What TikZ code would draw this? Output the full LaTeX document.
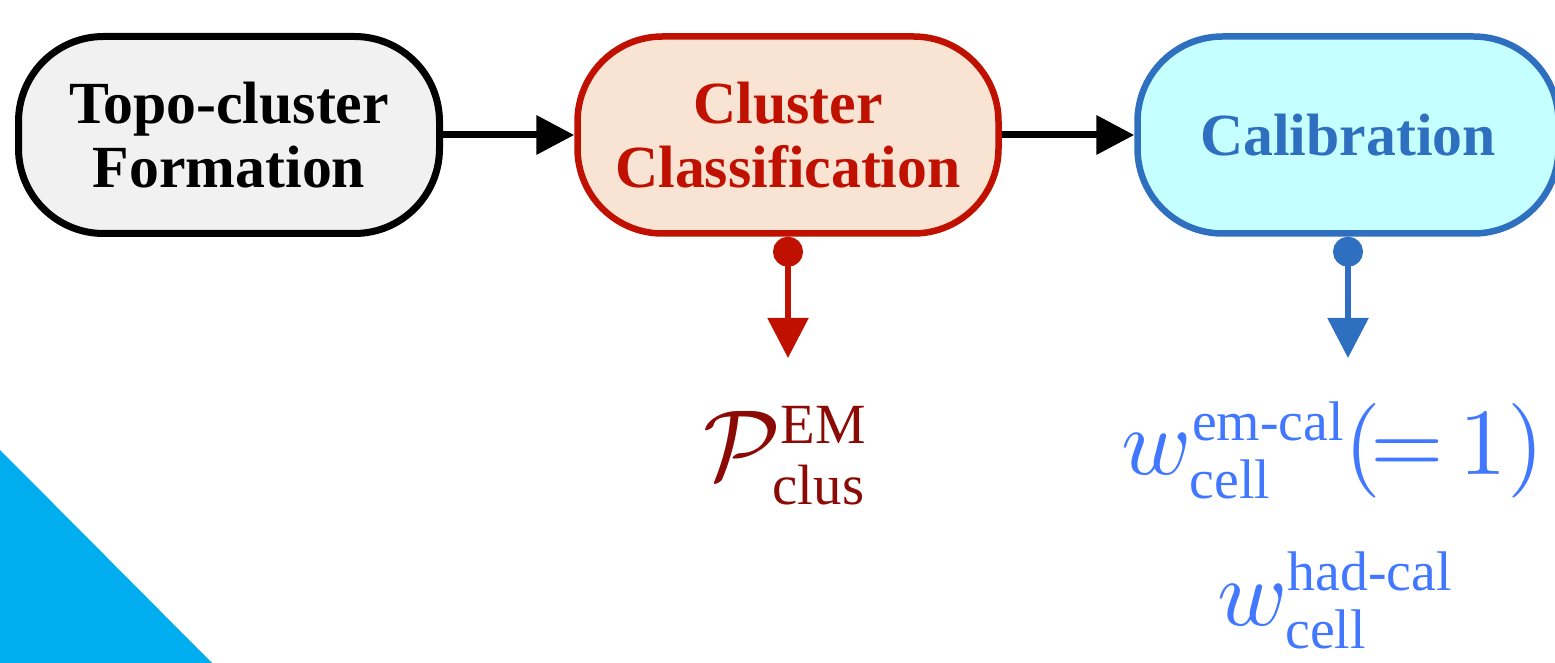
\documentclass[tikz,border=0pt]{standalone}
\usepackage{amsmath}
\usepackage{fontspec}
\newfontfamily\boxfont{Liberation Serif}
\usetikzlibrary{arrows.meta,%
                positioning}
\DeclareFontShape{OML}{cmm}{m}{it}{<->cmmi10}{}
\DeclareFontShape{OMS}{cmsy}{m}{n}{<->cmsy10}{}
\DeclareFontShape{OT1}{cmr}{m}{n}{<->cmr10}{}
\definecolor{topogrey}{RGB}{241,241,241}
\definecolor{classred}{RGB}{192,16,0}
\definecolor{classfill}{RGB}{249,228,212}
\definecolor{calblue}{RGB}{46,111,192}
\definecolor{calfill}{RGB}{198,255,255}
\definecolor{emred}{RGB}{139,10,5}
\definecolor{wblue}{RGB}{66,120,255}
\definecolor{cornerblue}{RGB}{0,174,239}
\DeclareMathSizes{100}{100}{57}{40}
\DeclareMathSizes{95}{95}{56}{40}
\newcommand{\lbl}[1]{\text{\boxfont #1}}
\tikzstyle{stage}=[rounded corners=85bp,minimum width=421bp,minimum height=197bp,align=center,inner sep=0pt,font=\boxfont\bfseries\fontsize{60}{65}\selectfont]
\tikzstyle{flow}=[line width=7bp,-{Triangle[length=38bp,width=38bp]}]
\tikzstyle{result}=[line width=5.5bp,{Circle[length=30bp]}-{Triangle[length=40bp,width=40bp]}]

\begin{document}
\begin{tikzpicture}[line join=bevel]
	\useasboundingbox (0bp,0bp) rectangle (1555bp,663bp);
	%%
	\fill [cornerblue] (0bp,213bp) -- (212bp,0bp) -- (0bp,0bp) -- cycle;
	\node (T) at (229bp,528bp) [stage,draw=black,fill=topogrey,line width=7bp] {Topo-cluster\\Formation};
	  \node (C) at (788bp,528bp) [stage,draw=classred,fill=classfill,line width=6.5bp,text=classred] {Cluster\\Classification};
	  \node (K) at (1348bp,528bp) [stage,draw=calblue,fill=calfill,line width=6.5bp,text=calblue] {Calibration};
	  \coordinate (Cend) at (788bp,305bp);
	  \coordinate (Kend) at (1348bp,305bp);
	  \node (P) at (785bp,183bp) [anchor=base,text=emred,font=\fontsize{100}{105}\selectfont] {$\mathcal{P}^{\lbl{EM}}_{\lbl{clus}}$};
	  \node (wem) at (1333bp,188bp) [anchor=base,text=wblue,font=\fontsize{95}{100}\selectfont] {$w^{\lbl{em-cal}}_{\lbl{cell}}(\mkern-2mu=\mkern-2mu1)$};
	  \node (whad) at (1335bp,38bp) [anchor=base,text=wblue,font=\fontsize{95}{100}\selectfont] {$w^{\lbl{had-cal}}_{\lbl{cell}}$};
	  \draw [flow] (T) -- (C);
	  \draw [flow] (C) -- (K);
	  \draw [result,classred] (C.south) -- (Cend);
	  \draw [result,calblue] (K.south) -- (Kend);
	%
\end{tikzpicture}
\end{document}
